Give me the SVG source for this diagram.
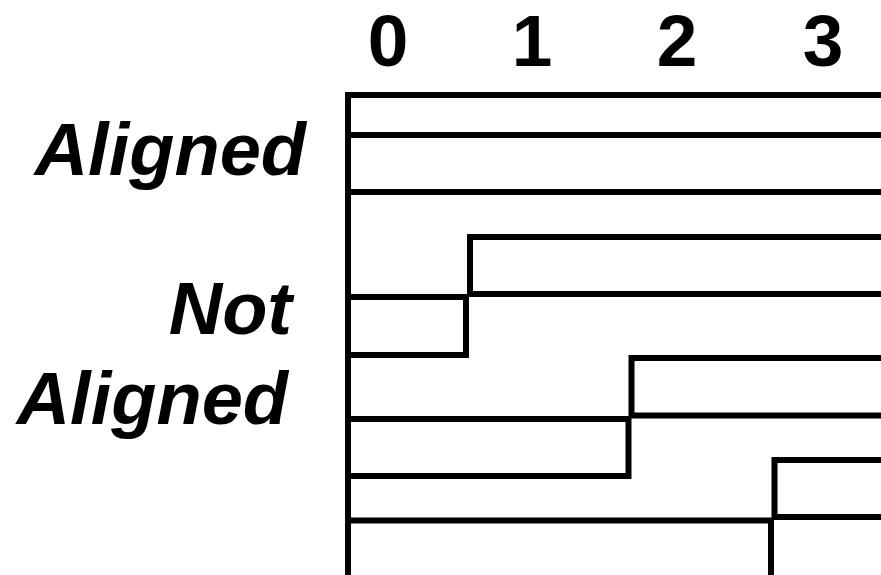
<svg xmlns="http://www.w3.org/2000/svg" width="881" height="575" viewBox="0 0 881 575">
  <style>
    .lane { fill: none; stroke: #000; stroke-width: 6; stroke-linejoin: miter; stroke-linecap: butt; }
    .idx { font-family: "Liberation Sans", Arial, sans-serif; font-weight: bold; font-size: 73px; fill: #000; text-anchor: middle; }
    .lbl { font-family: "Liberation Sans", Arial, sans-serif; font-weight: bold; font-style: italic; font-size: 74px; fill: #000; text-anchor: end; }
  </style>
  <rect width="881" height="575" fill="#fff"/>

  <!-- column indices -->
  <g id="indices">
    <text class="idx" x="388" y="66">0</text>
    <text class="idx" x="532" y="66">1</text>
    <text class="idx" x="677" y="66">2</text>
    <text class="idx" x="823" y="66">3</text>
  </g>

  <!-- row labels -->
  <g id="label-aligned">
    <text class="lbl" x="306" y="175">Aligned</text>
  </g>
  <g id="label-not-aligned">
    <text class="lbl" x="292" y="334">Not</text>
    <text class="lbl" x="288" y="424">Aligned</text>
  </g>

  <!-- memory rows -->
  <g id="rows">
    <path class="lane" d="M348,92 V575"/>
    <g id="aligned-rows">
      <path class="lane" d="M345,95 H881"/>
      <path class="lane" d="M348,135 H881"/>
      <path class="lane" d="M348,192 H881"/>
    </g>
    <g id="offset-1">
      <path class="lane" d="M881,237 H470 V294 H881"/>
      <path class="lane" d="M348,297 H466 V355 H348"/>
    </g>
    <g id="offset-2">
      <path class="lane" d="M881,358 H631.5 V415.5 H881"/>
      <path class="lane" d="M348,419 H628.5 V476 H348"/>
    </g>
    <g id="offset-3">
      <path class="lane" d="M881,460 H774.5 V517 H881"/>
      <path class="lane" d="M348,520.5 H771 V575"/>
    </g>
  </g>
</svg>
